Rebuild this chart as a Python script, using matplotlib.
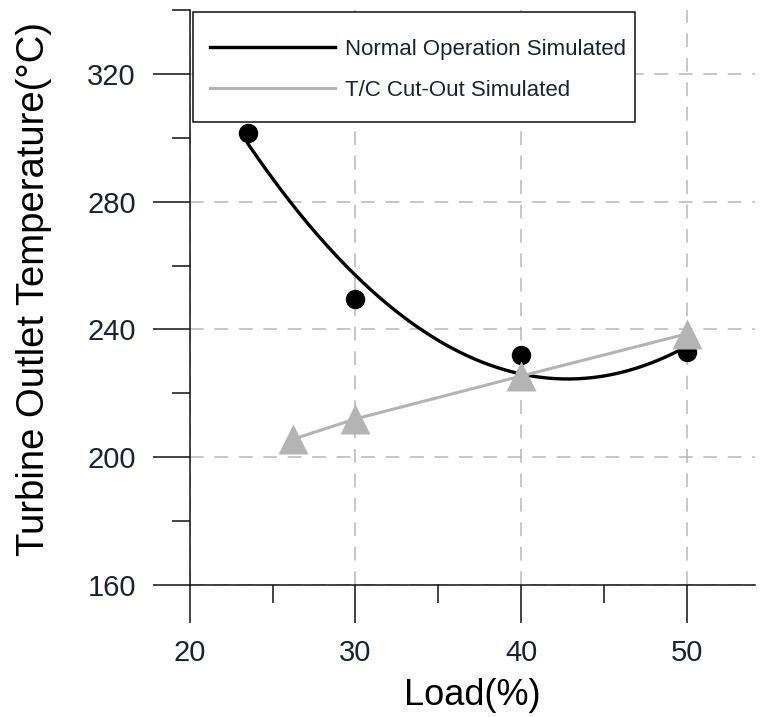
import numpy as np
import matplotlib
matplotlib.use("Agg")
import matplotlib.pyplot as plt
from matplotlib.patches import Rectangle

# Measured turbine outlet temperatures
normal_load = [23.5, 30, 40, 50]
normal_temp = [301.6, 249.4, 232.0, 232.8]
cutout_load = [26.2, 30, 40, 50]
cutout_temp = [205.6, 212.0, 225.4, 238.6]

x_ticks = [20, 30, 40, 50]
y_ticks = [160, 200, 240, 280, 320]

TEXT = "#1c2330"
GRID = "#b8b8b8"
SERIES_GREY = "#b4b4b4"

plt.rcParams["font.family"] = ["Liberation Sans", "DejaVu Sans"]

fig = plt.figure(figsize=(7.6, 7.17), dpi=100)
ax = fig.add_axes([190 / 760, 1 - 585 / 717, 565 / 760, 575 / 717])

# Quadratic trend through the normal-operation points
coef = np.polyfit(normal_load, normal_temp, 2)
xs = np.linspace(normal_load[0], normal_load[-1], 300)
ax.plot(xs, np.polyval(coef, xs), color="black", lw=2.4, zorder=3,
        label="Normal Operation Simulated")
ax.plot(normal_load, normal_temp, "o", color="black", ms=14, mec="none", zorder=4)

ax.plot(cutout_load, cutout_temp, color=SERIES_GREY, lw=2.2, zorder=3,
        label="T/C Cut-Out Simulated")
ax.plot(cutout_load, cutout_temp, "^", color=SERIES_GREY, ms=21.5, mec="none", zorder=5)

ax.set_xlim(20, 20 + 565 / 16.55)
ax.set_ylim(160, 340)
ax.set_xticks(x_ticks)
ax.set_yticks(y_ticks)
ax.set_xticks([25, 35, 45], minor=True)
ax.set_yticks([180, 220, 260, 300, 340], minor=True)

ax.grid(True, which="major", color=GRID, lw=1.1, ls=(0, (9, 7)), zorder=1)
ax.set_axisbelow(True)

for side in ("top", "right"):
    ax.spines[side].set_visible(False)
for side in ("left", "bottom"):
    ax.spines[side].set_color("#111111")
    ax.spines[side].set_linewidth(1.1)

ax.tick_params(which="major", direction="out", length=27, width=1.1,
               color="#111111", labelsize=21, labelcolor=TEXT, pad=12)
ax.tick_params(which="minor", direction="out", length=13, width=1.1, color="#111111")

ax.set_xlabel("Load(%)", fontsize=26, color="black", labelpad=8)
ax.set_ylabel("Turbine Outlet Temperature(\u00b0C)", fontsize=27.5, color="black", labelpad=25)
ax.yaxis.label.set_y(0.515)

# Legend box drawn as its own white panel, legend entries placed inside it
box = Rectangle((3 / 565, 463 / 575), 442 / 565, 110 / 575, transform=ax.transAxes,
                facecolor="white", edgecolor="#111111", lw=1.1, zorder=9, clip_on=False)
ax.add_patch(box)

leg = ax.legend(loc="upper left", bbox_to_anchor=(3 / 565, 563 / 575), borderaxespad=0,
                frameon=False, handlelength=5.6, handletextpad=0.45,
                labelspacing=0.88, borderpad=0.77,
                prop={"size": 16})
leg.set_zorder(10)
for t in leg.get_texts():
    t.set_color(TEXT)

fig.savefig("out.png", dpi=100, facecolor="white")
